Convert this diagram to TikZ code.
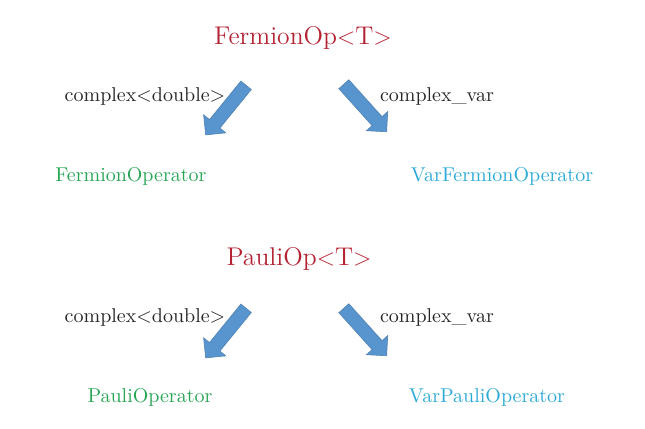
\documentclass[tikz,border=0pt]{standalone}
\usetikzlibrary{shapes.arrows}
\definecolor{tred}{RGB}{180,35,50}
\definecolor{tgreen}{RGB}{40,165,85}
\definecolor{tblue}{RGB}{45,170,215}
\definecolor{afill}{RGB}{88,148,205}
\definecolor{aline}{RGB}{80,130,180}
\tikzset{
  title/.style={text=tred,font=\fontsize{12.8}{15}\selectfont,inner sep=0pt},
  lbl/.style={text=black!85,font=\normalsize,inner sep=0pt},
  gout/.style={text=tgreen,font=\normalsize,inner sep=0pt},
  bout/.style={text=tblue,font=\normalsize,inner sep=0pt},
  blockarrow/.style={single arrow,draw=aline,fill=afill,line width=0.3pt,
    minimum height=32pt,inner xsep=0pt,inner ysep=3.2pt,single arrow head extend=3.8pt,
    single arrow head indent=0pt,anchor=center}
}
\begin{document}
\begin{tikzpicture}[x=0.5pt,y=-0.5pt]
\useasboundingbox (0,0) rectangle (645,429);
% upper group
\node[title] (fop) at (303,38) {FermionOp$<$T$>$};
\node[lbl] (fl) at (145,96) {complex$<$double$>$};
\node[lbl] (fr) at (437,96) {complex\_var};
\node[gout] (fo) at (131,176) {FermionOperator};
\node[bout] (vfo) at (502,176) {VarFermionOperator};
\node[blockarrow,rotate=230.8] (fa1) at (228,107.5) {};
\node[blockarrow,rotate=-48] (fa2) at (363,105.5) {};
% lower group
\node[title] (pop) at (299,259) {PauliOp$<$T$>$};
\node[lbl] (pl) at (145,317) {complex$<$double$>$};
\node[lbl] (pr) at (437,317) {complex\_var};
\node[gout] (po) at (150,397) {PauliOperator};
\node[bout] (vpo) at (487,397) {VarPauliOperator};
\node[blockarrow,rotate=230.8] (pa1) at (228,330.5) {};
\node[blockarrow,rotate=-48] (pa2) at (363,329.5) {};
\end{tikzpicture}
\end{document}
